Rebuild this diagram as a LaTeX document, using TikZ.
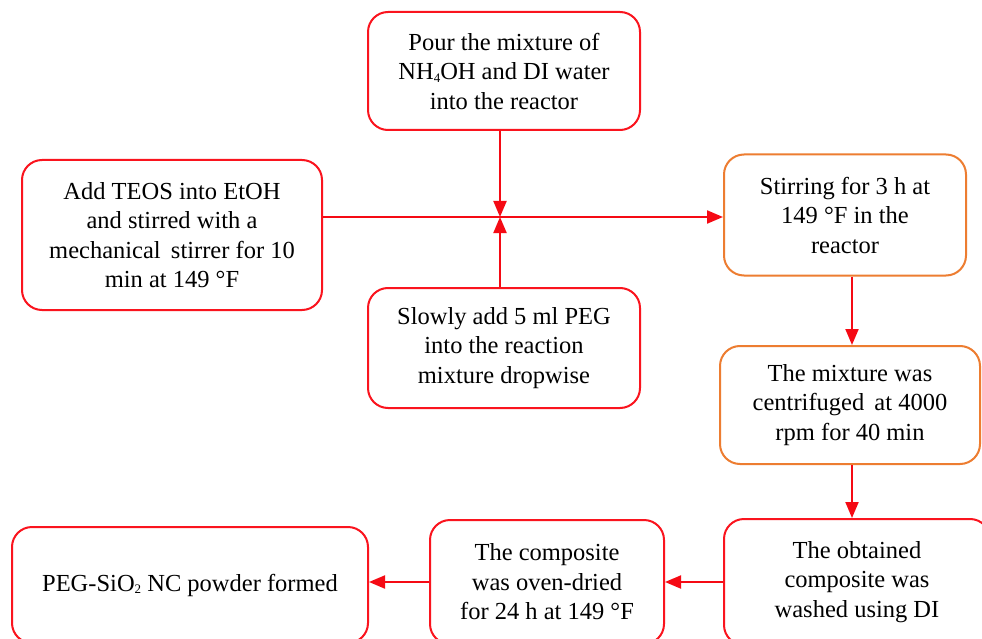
\documentclass[tikz,border=0pt]{standalone}
\usepackage{fontspec}
\setmainfont{Liberation Serif}
\usetikzlibrary{arrows.meta,calc}
\definecolor{boxred}{RGB}{250,20,30}
\definecolor{boxorange}{RGB}{237,125,49}
\definecolor{arrred}{RGB}{245,10,20}
\newcommand{\sbs}[1]{\raisebox{-0.25ex}{\fontsize{13}{13}\selectfont #1}}
\begin{document}
\begin{tikzpicture}[x=1pt,y=1pt,
  stepbox/.style={draw=boxred,line width=2pt,rounded corners=20pt,align=center,inner sep=4pt,
    font=\fontsize{24.5}{29.5}\selectfont},
  orangebox/.style={stepbox,draw=boxorange},
  flow/.style={draw=arrred,line width=2pt,-{Triangle[length=16pt,width=13pt]}},
  plain/.style={draw=arrred,line width=2pt}]
\path[use as bounding box] (0,0) rectangle (982,-639);
\clip (0,0) rectangle (982,-639);
\fill[white] (0,0) rectangle (982,-639);
\node[stepbox,minimum width=272,minimum height=118] (top) at (504,-71) {Pour the mixture of\\NH\sbs{4}OH and DI water\\into the reactor};
\node[stepbox,minimum width=300,minimum height=150] (left) at (172,-235) {Add TEOS into EtOH\\and stirred with a\\mechanical\, stirrer for 10\\min at 149 °F};
\node[stepbox,minimum width=272,minimum height=120] (peg) at (504,-348) {Slowly add 5 ml PEG\\into the reaction\\mixture dropwise};
\node[orangebox,minimum width=242,minimum height=121] (stir) at (845,-215) {Stirring for 3 h at\\149 °F in the\\reactor};
\node[orangebox,minimum width=260,minimum height=118] (centri) at (850,-405) {The mixture was\\centrifuged\, at 4000\\rpm for 40 min};
\node[stepbox,minimum width=266,minimum height=126] (obt) at (857,-582) {The obtained\\composite was\\washed using DI};
\node[stepbox,minimum width=234,minimum height=124] (comp) at (547,-582) {The composite\\was oven-dried\\for 24 h at 149 °F};
\node[stepbox,minimum width=356,minimum height=116] (fin) at (190,-585) {PEG-SiO\sbs{2} NC powder formed};
\coordinate (j) at (500,-217);
\draw[plain] (left.east |- j) -- (j);
\draw[flow] (j) -- (j -| stir.west);
\draw[flow] (top.south -| j) -- (j);
\draw[flow] (peg.north -| j) -- (j);
\draw[flow] (stir.south -| 852,0) -- (centri.north -| 852,0);
\draw[flow] (centri.south -| 852,0) -- (obt.north -| 852,0);
\draw[flow] (obt.west) -- (comp.east);
\draw[flow] (comp.west) -- (fin.east |- comp.west);
\end{tikzpicture}
\end{document}
